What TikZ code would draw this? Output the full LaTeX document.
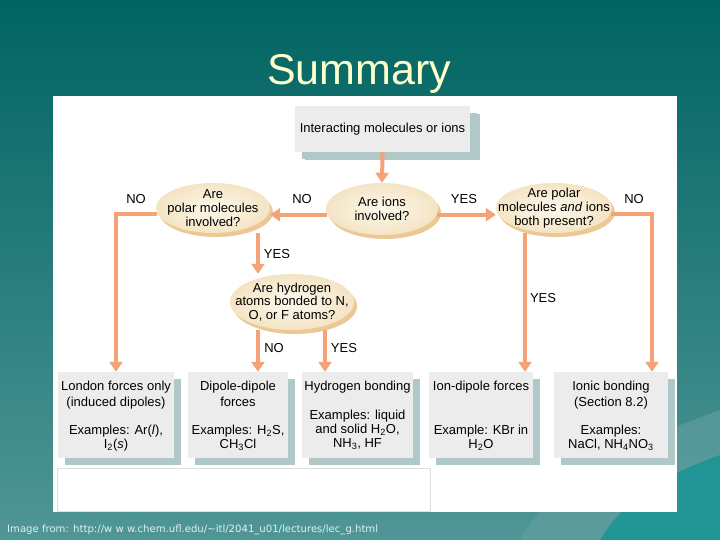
\documentclass[tikz,border=0pt]{standalone}
\usepackage{fontspec}
\setmainfont{Liberation Sans}
\newfontfamily\creditfont{DejaVu Sans}
\usetikzlibrary{arrows.meta,shapes.geometric,calc,shadows}
\definecolor{bgtop}{RGB}{0,100,98}
\definecolor{bgbot}{RGB}{80,150,150}
\definecolor{swirl}{RGB}{20,148,148}
\definecolor{swirlb}{RGB}{100,160,160}
\definecolor{titlecol}{RGB}{255,255,204}
\definecolor{boxfill}{RGB}{236,236,236}
\definecolor{boxshadow}{RGB}{176,200,200}
\definecolor{ellfill}{RGB}{244,228,196}
\definecolor{ellin}{RGB}{252,248,236}
\definecolor{ellshadow}{RGB}{236,200,150}
\definecolor{arrcol}{RGB}{243,163,118}
\definecolor{credit}{RGB}{226,240,240}
\begin{document}
\begin{tikzpicture}[x=1pt,y=-1pt,
  every node/.style={font=\fontsize{13}{14}\selectfont, text=black},
  panelbox/.style={rectangle, fill=boxfill, inner sep=0pt,
    drop shadow={shadow xshift=7pt, shadow yshift=-7pt, fill=boxshadow, opacity=1}},
  ell/.style={ellipse, inner sep=0pt, inner color=ellin, outer color=ellfill,
    drop shadow={shadow xshift=3pt, shadow yshift=-4pt, fill=ellshadow, opacity=1}},
  etext/.style={align=center, inner sep=0pt, font=\fontsize{13}{13.8}\selectfont},
  btext/.style={align=center, inner sep=0pt, anchor=north, font=\fontsize{13}{16}\selectfont},
  bex/.style={align=center, inner sep=0pt, anchor=north, font=\fontsize{13}{14}\selectfont},
  lbl/.style={inner sep=0pt, font=\fontsize{13}{14}\selectfont},
  arr/.style={draw=arrcol, line width=4pt, -{Triangle[length=10pt,width=13pt]}}]
\useasboundingbox (0,0) rectangle (720,540);
% background
\shade[top color=bgtop, bottom color=bgbot] (0,0) rectangle (720,540);
\fill[swirlb, opacity=0.6] (520,540) .. controls (560,470) and (640,440) .. (720,410) -- (720,540) -- cycle;
\fill[swirl, opacity=0.8] (600,540) .. controls (630,490) and (680,470) .. (720,455) -- (720,540) -- cycle;
% title
\node[inner sep=0pt, text=titlecol, font=\fontsize{43}{50}\selectfont] (title) at (359,74) {Summary};
% white panel
\fill[white] (53,96) rectangle (677,512);
\draw[draw={rgb,255:red,222;green,222;blue,222}, line width=0.8pt] (57,468) rectangle (430,511);

% top box
\node[panelbox, minimum width=175pt, minimum height=46pt,
  drop shadow={shadow xshift=10pt, shadow yshift=-8pt, fill=boxshadow, opacity=1}] (top) at (382.5,129) {Interacting molecules or ions};

% ellipses
\node[ell, minimum width=114pt, minimum height=50pt] (e1) at (213,208) {};
\node[etext] (e1t) at (e1) {Are\\polar molecules\\involved?};
\node[ell, minimum width=112pt, minimum height=52pt] (e2) at (382,209) {};
\node[etext] (e2t) at (e2) {Are ions\\involved?};
\node[ell, minimum width=116pt, minimum height=50pt] (e3) at (554,208) {};
\node[etext] (e3t) at (e3) {Are polar\\molecules \textit{and} ions\\both present?};
\node[ell, minimum width=124pt, minimum height=56pt] (e4) at (292,302) {};
\node[etext] (e4t) at (e4) {Are hydrogen\\atoms bonded to N,\\O, or F atoms?};

% bottom boxes
\node[panelbox, minimum width=116pt, minimum height=86pt] (b1) at (116,415) {};
\node[panelbox, minimum width=100pt, minimum height=86pt] (b2) at (238,415) {};
\node[panelbox, minimum width=111pt, minimum height=86pt] (b3) at (357.5,415) {};
\node[panelbox, minimum width=104pt, minimum height=86pt] (b4) at (481,415) {};
\node[panelbox, minimum width=114pt, minimum height=86pt] (b5) at (611,415) {};

\node[btext] (b1a) at (116,381) {London forces only\\(induced dipoles)};
\node[bex] (b1b) at (116,425) {Examples: Ar(\textit{l}),\\I\textsubscript{2}(\textit{s})};
\node[btext] (b2a) at (238,381) {Dipole-dipole\\forces};
\node[bex] (b2b) at (238,425) {Examples: H\textsubscript{2}S,\\CH\textsubscript{3}Cl};
\node[btext] (b3a) at (357.5,381) {Hydrogen bonding};
\node[bex] (b3b) at (357.5,410) {Examples: liquid\\and solid H\textsubscript{2}O,\\NH\textsubscript{3}, HF};
\node[btext] (b4a) at (481,381) {Ion-dipole forces};
\node[bex] (b4b) at (481,425) {Example: KBr in\\H\textsubscript{2}O};
\node[btext] (b5a) at (611,381) {Ionic bonding\\(Section 8.2)};
\node[bex] (b5b) at (611,425) {Examples:\\NaCl, NH\textsubscript{4}NO\textsubscript{3}};

% connectors
\draw[arr] (top.south) -- (e2.north);
\draw[arr] (e2.186) -- (e2.186 -| e1.east);
\draw[arr] (e2.-6) -- (e2.-6 -| e3.west);
\draw[arr] (e1.186) -| (b1.north);
\draw[arr] (e3.-6) -| ([xshift=41pt]b5.north);
\draw[arr] ([xshift=45pt]e1.south) -- ([xshift=45pt]e1.south |- e4.north);
\draw[arr] ([xshift=-34pt]e4.south) -- ([xshift=-34pt]e4.south |- b2.north);
\draw[arr] ([xshift=33pt]e4.south) -- ([xshift=33pt]e4.south |- b3.north);
\draw[arr] ([xshift=-29pt]e3.south) -- ([xshift=-29pt]e3.south |- b4.north);

% labels
\node[lbl] (l1) at (136,199) {NO};
\node[lbl] (l2) at (302,199) {NO};
\node[lbl] (l3) at (464,199) {YES};
\node[lbl] (l4) at (634,199) {NO};
\node[lbl] (l5) at (277,254) {YES};
\node[lbl] (l6) at (543,298) {YES};
\node[lbl] (l7) at (274,348) {NO};
\node[lbl] (l8) at (344,348) {YES};

% credit
\node[inner sep=0pt, anchor=west, text=credit, font=\creditfont\fontsize{10.1}{12}\selectfont] (cr) at (7,530)
  {Image from: http://w w w.chem.ufl.edu/\textasciitilde itl/2041\_u01/lectures/lec\_g.html};
\end{tikzpicture}
\end{document}
